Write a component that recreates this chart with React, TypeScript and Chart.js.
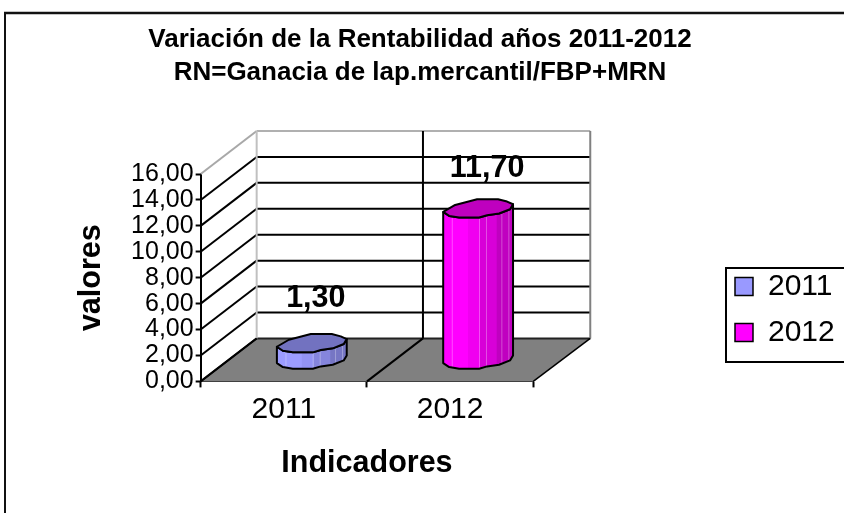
import React, { useEffect, useRef } from "react";
import { Chart, registerables } from "chart.js";
Chart.register(...registerables);

const categories = ["2011", "2012"];
const values = [1.3, 11.7];
const labelsText = ["1,30", "11,70"];
const sideColors = [
  ["#9c9cff", "#9393f4", "#8585dd", "#7676c4"],
  ["#ff00ff", "#f000f0", "#d800d8", "#c000c0"],
];
const topColors = ["#7272c0", "#bf00bf"];
const legendColors = ["#9999ff", "#ff00ff"];
const titleLines = ["Variación de la Rentabilidad años 2011-2012", "RN=Ganacia de lap.mercantil/FBP+MRN"];

const DEPTH_X = 56;
const DEPTH_Y = 43;
const LABEL_LIFT = [36, 31];
const LABEL_SHIFT = [4, 9];
const FONT = "'Liberation Sans', Arial, sans-serif";
const backHalf = [[-35, 3.7], [-23, -3.3], [-1, -9], [20, -9], [29, -6.7], [35, -4]];
const frontHalf = [[35, -4], [32, 1], [21, 5.3], [9, 7], [1, 9.3], [-19, 9.3], [-29, 7.7], [-35, 3.7]];

const line = (c: any, x1: number, y1: number, x2: number, y2: number, col: string, w: number) => {
  c.strokeStyle = col;
  c.lineWidth = w;
  c.beginPath();
  c.moveTo(x1, y1);
  c.lineTo(x2, y2);
  c.stroke();
};

const scene = {
  id: "scene",
  afterLayout(chart: any) {
    const lg = chart.legend;
    lg.left = 719; lg.right = 860; lg.width = 141;
    lg.top = 210; lg.bottom = 409; lg.height = 199;
    const t = chart.titleBlock;
    t.left = 0; t.right = 840; t.width = 840;
    t.top = 3.5; t.bottom = t.top + t.height;
  },
  beforeDraw(chart: any) {
    const c = chart.ctx;
    c.save();
    c.fillStyle = "#fff";
    c.fillRect(0, 0, chart.width, chart.height);
    line(c, 5, 13, 5, 513, "#111", 2);
    line(c, 4, 13, 844, 13, "#111", 2.5);
    c.strokeStyle = "#000";
    c.lineWidth = 2;
    c.strokeRect(726, 268, 130, 94);
    c.restore();
  },
  beforeDatasetsDraw(chart: any) {
    const c = chart.ctx;
    const { left, right, top, bottom } = chart.chartArea;
    const y = chart.scales.y;
    const x = chart.scales.x;
    const bl = left + DEPTH_X, br = right + DEPTH_X + 1, bb = bottom - DEPTH_Y, bt = top - DEPTH_Y;
    c.save();
    c.fillStyle = "#808080";
    c.beginPath();
    c.moveTo(left, bottom); c.lineTo(right, bottom); c.lineTo(br, bb); c.lineTo(bl, bb); c.closePath();
    c.fill();
    y.ticks.forEach((tk: any) => {
      const py = y.getPixelForValue(tk.value);
      if (tk.value === y.max) return;
      line(c, left, py, bl, py - DEPTH_Y, "#000", 2);
      line(c, bl, py - DEPTH_Y, br, py - DEPTH_Y, tk.value === 0 ? "#222" : "#000", 2);
    });
    line(c, left, top, bl, bt, "#a8a8a8", 2);
    line(c, bl, bt, br, bt, "#b0b0b0", 2);
    line(c, bl, bt, bl, bb, "#c0c0c0", 2);
    line(c, br, bt, br, bb, "#808080", 2);
    const mid = (x.getPixelForValue(0) + x.getPixelForValue(1)) / 2;
    line(c, mid + DEPTH_X, bt, mid + DEPTH_X, bb, "#000", 2);
    line(c, mid, bottom, mid + DEPTH_X, bb, "#000", 2);
    line(c, left, bottom, bl, bb, "#000", 1.5);
    line(c, right, bottom, br, bb, "#000", 1.5);
    c.restore();
  },
  afterDatasetsDraw(chart: any) {
    const c = chart.ctx;
    const meta = chart.getDatasetMeta(0);
    meta.data.forEach((bar: any, i: number) => {
      const cx = bar.x + DEPTH_X / 2;
      const ty = bar.y - DEPTH_Y / 2;
      const by = bar.base - DEPTH_Y / 2;
      const s = bar.width / 70;
      c.save();
      c.lineJoin = "round";
      const side = new Path2D();
      side.moveTo(cx - 35 * s, ty + 3.7);
      side.lineTo(cx - 35 * s, by + 3.7);
      [...frontHalf].reverse().forEach(([dx, dy]) => side.lineTo(cx + dx * s, by + dy));
      side.lineTo(cx + 35 * s, ty - 4);
      frontHalf.forEach(([dx, dy]) => side.lineTo(cx + dx * s, ty + dy));
      side.closePath();
      const g = c.createLinearGradient(cx - 35 * s, 0, cx + 35 * s, 0);
      const sc = sideColors[i];
      g.addColorStop(0, sc[0]); g.addColorStop(0.35, sc[0]); g.addColorStop(0.36, sc[1]);
      g.addColorStop(0.52, sc[1]); g.addColorStop(0.53, sc[2]); g.addColorStop(0.76, sc[2]);
      g.addColorStop(0.77, sc[3]); g.addColorStop(1, sc[3]);
      c.fillStyle = g;
      c.fill(side);
      c.save();
      c.clip(side);
      [0.13, 0.52, 0.62, 0.84, 0.94].forEach((f) => {
        const lx = cx - 35 * s + 70 * s * f;
        line(c, lx, ty - 10, lx, by + 12, "rgba(255,255,255,0.3)", 1);
      });
      c.restore();
      c.strokeStyle = "#000";
      c.lineWidth = 2;
      c.stroke(side);
      c.beginPath();
      backHalf.forEach(([dx, dy], k) => (k ? c.lineTo(cx + dx * s, ty + dy) : c.moveTo(cx + dx * s, ty + dy)));
      frontHalf.forEach(([dx, dy]) => c.lineTo(cx + dx * s, ty + dy));
      c.closePath();
      c.fillStyle = topColors[i];
      c.fill();
      c.stroke();
      c.fillStyle = "#000";
      c.font = `bold 30.5px ${FONT}`;
      c.textAlign = "center";
      c.textBaseline = "alphabetic";
      c.fillText(labelsText[i], cx + LABEL_SHIFT[i], ty - LABEL_LIFT[i]);
      c.restore();
    });
  },
};

export default function App() {
  const ref = useRef<HTMLCanvasElement>(null);
  useEffect(() => {
    const chart = new Chart(ref.current as HTMLCanvasElement, {
      type: "bar",
      data: {
        labels: categories,
        datasets: [{
          data: values,
          backgroundColor: "rgba(0,0,0,0)",
          borderWidth: 0,
          barPercentage: 0.42,
          categoryPercentage: 1,
        }],
      },
      plugins: [scene],
      options: {
        responsive: false,
        animation: false,
        layout: { padding: { left: 73, right: 185, top: 0, bottom: 31 } },
        plugins: {
          tooltip: { enabled: false },
          title: {
            display: true,
            text: titleLines,
            color: "#000",
            font: { family: FONT, size: 26, weight: "bold", lineHeight: 33 / 26 },
            padding: { top: 20, bottom: 88 },
          },
          legend: {
            display: true,
            position: "right",
            onClick: () => {},
            labels: {
              color: "#000",
              font: { family: FONT, size: 30 },
              boxWidth: 18,
              boxHeight: 18,
              padding: 16,
              generateLabels: () =>
                categories.map((t, i) => ({
                  text: t,
                  fillStyle: legendColors[i],
                  strokeStyle: "#000",
                  lineWidth: 1.5,
                  hidden: false,
                  index: i,
                  datasetIndex: 0,
                })),
            },
          },
        },
        scales: {
          x: {
            grid: { drawOnChartArea: false, drawTicks: true, tickLength: 6, tickColor: "#000", tickWidth: 2 },
            border: { color: "#000", width: 2 },
            ticks: { color: "#000", font: { family: FONT, size: 30 }, padding: 4, maxRotation: 0 },
            title: {
              display: true,
              text: "Indicadores",
              color: "#000",
              font: { family: FONT, size: 30.5, weight: "bold" },
              padding: { top: 14, bottom: 0 },
            },
          },
          y: {
            min: 0,
            max: 16,
            grid: { drawOnChartArea: false, drawTicks: true, tickLength: 5, tickColor: "#000", tickWidth: 2 },
            border: { color: "#000", width: 2 },
            ticks: {
              stepSize: 2,
              autoSkip: false,
              color: "#000",
              font: { family: FONT, size: 25 },
              padding: 2,
              callback: (v: any) => Number(v).toFixed(2).replace(".", ","),
            },
            title: {
              display: true,
              text: "valores",
              color: "#000",
              font: { family: FONT, size: 30.5, weight: "bold" },
              padding: { top: 0, bottom: 19.5 },
            },
          },
        },
      },
    } as any);
    return () => chart.destroy();
  }, []);
  return (
    <div style={{ position: "fixed", left: 0, top: 0, width: 844, height: 513 }}>
      <canvas ref={ref} width={844} height={513} style={{ display: "block" }} />
    </div>
  );
}
